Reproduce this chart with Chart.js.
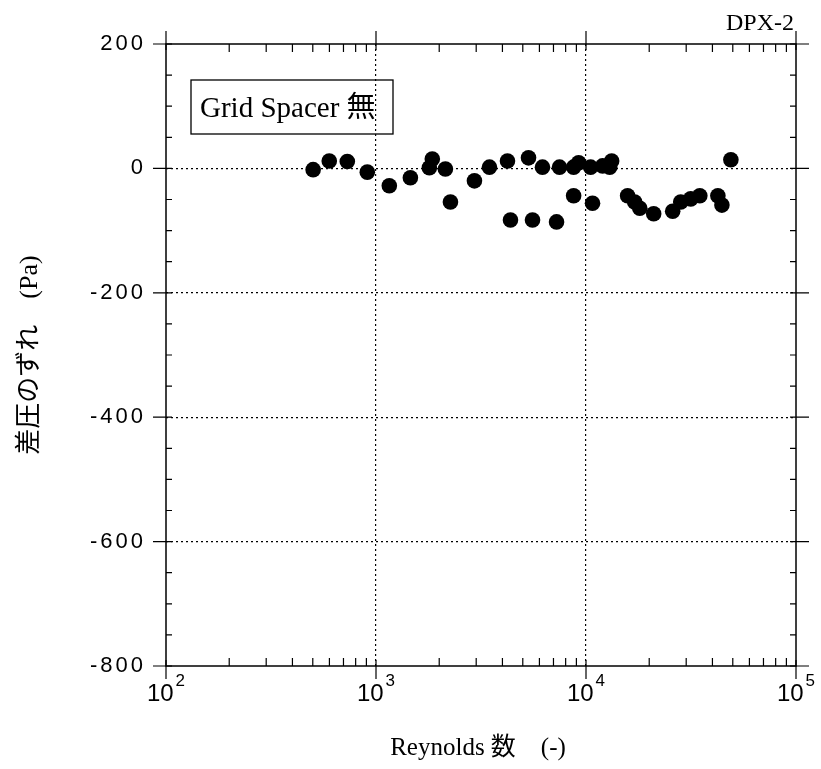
<!DOCTYPE html>
<html>
<head>
<meta charset="utf-8">
<script src="https://cdn.jsdelivr.net/npm/chart.js@4.4.1/dist/chart.umd.min.js"></script>
<style>
  html, body { margin: 0; padding: 0; background: #fff; }
  #wrap { width: 821px; height: 769px; }
</style>
</head>
<body>
<div id="wrap"><canvas id="dpx"></canvas></div>
<script>
// Reynolds 数 (x) と 差圧のずれ (Pa) (y) — 図から読み取った値
const reynolds = [502, 599, 730, 909, 1157, 1458, 1795, 1854, 2140, 2262,
    2943, 3470, 4227, 4369, 5325, 5563, 6205, 7240, 7480, 8730,
    9226, 8730, 10520, 10740, 12000, 12970, 13250, 15780, 17050, 18030,
    21000, 25870, 28260, 31530, 34830, 42460, 44380, 48960];
const dpDev = [-2, 12, 11, -6, -28, -15, 1, 15, -1, -54,
    -20, 2, 12, -83, 17, -83, 2, -86, 2, 2,
    9, -44, 2, -56, 4, 2, 12, -44, -54, -64,
    -73, -69, -54, -49, -44, -44, -59, 14];

const xMajor = [100, 1000, 10000, 100000];
const xGrid = [1000, 10000];
const yMajor = [200, 0, -200, -400, -600, -800];
const yGrid = [0, -200, -400, -600];

const puntos = reynolds.map(function(r, i) { return { x: r, y: dpDev[i] }; });

const serif = "'Liberation Serif', 'Noto Sans CJK JP', serif";
const sans = "'Liberation Sans', Arial, sans-serif";

// marcos, ticks internos y textos
const decoraciones = {
    id: 'decoraciones',
    beforeDraw: function(chart) {
        chart.ctx.letterSpacing = '3px';
    },
    afterDraw: function(chart) {
        const ctx = chart.ctx;
        const a = chart.chartArea;
        const xs = chart.scales.x;
        const ys = chart.scales.y;
        ctx.save();
        ctx.letterSpacing = '0px';
        ctx.strokeStyle = '#000';
        ctx.lineWidth = 1.5;
        ctx.strokeRect(a.left, a.top, a.right - a.left, a.bottom - a.top);

        ctx.lineWidth = 1.2;
        ctx.beginPath();
        // y: mayores cada 200, menores cada 50
        for (let v = -800; v <= 200; v += 50) {
            const py = ys.getPixelForValue(v);
            if (v % 200 === 0) {
                ctx.moveTo(a.left - 13, py); ctx.lineTo(a.left + 6, py);
                ctx.moveTo(a.right - 6, py); ctx.lineTo(a.right + 13, py);
            } else {
                ctx.moveTo(a.left, py); ctx.lineTo(a.left + 6, py);
                ctx.moveTo(a.right - 6, py); ctx.lineTo(a.right, py);
            }
        }
        // x: décadas y menores 2..9
        xMajor.forEach(function(d) {
            const px = xs.getPixelForValue(d);
            ctx.moveTo(px, a.bottom + 13); ctx.lineTo(px, a.bottom - 6);
            ctx.moveTo(px, a.top - 13); ctx.lineTo(px, a.top + 6);
            if (d < 100000) {
                for (let k = 2; k <= 9; k++) {
                    const pm = xs.getPixelForValue(d * k);
                    ctx.moveTo(pm, a.bottom); ctx.lineTo(pm, a.bottom - 8);
                    ctx.moveTo(pm, a.top); ctx.lineTo(pm, a.top + 8);
                }
            }
        });
        ctx.stroke();

        ctx.fillStyle = '#000';
        // etiquetas del eje x: 10^n, centradas como grupo
        xMajor.forEach(function(d) {
            const px = xs.getPixelForValue(d);
            const exp = String(Math.round(Math.log10(d)));
            ctx.font = '24px ' + sans;
            const wb = ctx.measureText('10').width;
            ctx.font = '17px ' + sans;
            const we = ctx.measureText(exp).width;
            const x0 = px - (wb + 2 + we) / 2;
            ctx.textAlign = 'left';
            ctx.textBaseline = 'alphabetic';
            ctx.font = '24px ' + sans;
            ctx.fillText('10', x0, a.bottom + 35);
            ctx.font = '17px ' + sans;
            ctx.fillText(exp, x0 + wb + 2, a.bottom + 20);
        });

        // títulos
        ctx.font = '25px ' + serif;
        ctx.textAlign = 'center';
        ctx.fillText('Reynolds 数　(-)', 478, 755);

        ctx.save();
        ctx.translate(30, 355);
        ctx.rotate(-Math.PI / 2);
        ctx.textBaseline = 'middle';
        ctx.font = '26px ' + serif;
        ctx.fillText('差圧のずれ　(Pa)', 0, 0);
        ctx.restore();

        ctx.font = '24px ' + serif;
        ctx.textAlign = 'right';
        ctx.fillText('DPX-2', 794, 30);

        // recuadro de leyenda
        ctx.lineWidth = 1.3;
        ctx.strokeRect(191, 80, 202, 54);
        ctx.font = '29px ' + serif;
        ctx.textAlign = 'left';
        ctx.fillText('Grid Spacer 無', 200, 117);
        ctx.restore();
    }
};

const ctx = document.getElementById('dpx').getContext('2d');
const grafico = new Chart(ctx, {
    type: 'scatter',
    data: {
        datasets: [{
            label: 'Grid Spacer 無',
            data: puntos,
            backgroundColor: '#000',
            borderWidth: 0,
            pointRadius: 7.8,
            pointHoverRadius: 7.8
        }]
    },
    options: {
        responsive: true,
        maintainAspectRatio: false,
        animation: false,
        layout: { padding: { left: 0, top: 44, right: 25, bottom: 0 } },
        plugins: {
            legend: { display: false },
            tooltip: { enabled: false }
        },
        scales: {
            x: {
                type: 'logarithmic',
                min: 100,
                max: 100000,
                afterBuildTicks: function(scale) {
                    scale.ticks = xMajor.map(function(v) { return { value: v }; });
                },
                afterFit: function(scale) { scale.height = 103; },
                ticks: { display: false },
                grid: {
                    drawTicks: false,
                    color: function(c) {
                        return c.tick && xGrid.indexOf(c.tick.value) >= 0 ? '#000' : 'rgba(0,0,0,0)';
                    },
                    lineWidth: 1.2
                },
                border: { display: false, dash: [2, 3] }
            },
            y: {
                min: -800,
                max: 200,
                afterBuildTicks: function(scale) {
                    scale.ticks = yMajor.map(function(v) { return { value: v }; });
                },
                afterFit: function(scale) { scale.width = 166; },
                ticks: {
                    color: '#000',
                    padding: 20,
                    font: { family: sans, size: 22 },
                    callback: function(v) { return String(v); }
                },
                grid: {
                    drawTicks: false,
                    color: function(c) {
                        return c.tick && yGrid.indexOf(c.tick.value) >= 0 ? '#000' : 'rgba(0,0,0,0)';
                    },
                    lineWidth: 1.2
                },
                border: { display: false, dash: [2, 3] }
            }
        }
    },
    plugins: [decoraciones]
});
</script>
</body>
</html>
